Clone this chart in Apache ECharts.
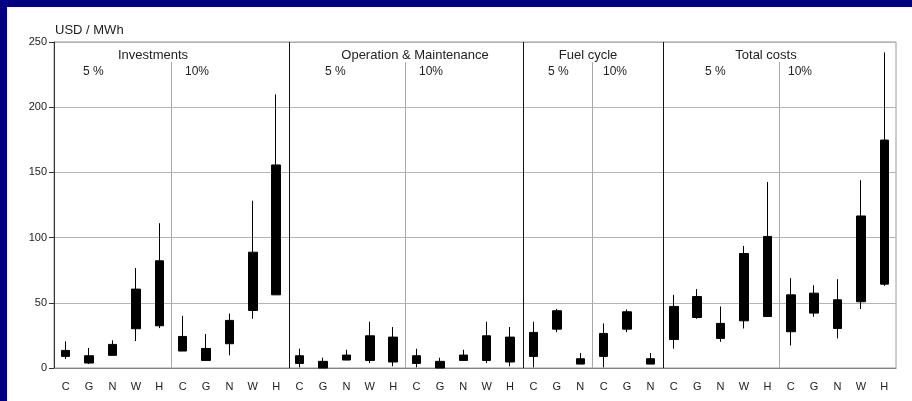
<!DOCTYPE html>
<html>
<head>
<meta charset="utf-8">
<script src="https://cdn.jsdelivr.net/npm/echarts@6/dist/echarts.min.js"></script>
<style>
  html, body { margin: 0; padding: 0; background: #ffffff; }
  #frame { position: absolute; left: 0; top: 0; width: 912px; height: 401px; background: #000080; }
  #chart { position: absolute; left: 7px; top: 7px; width: 905px; height: 394px; background: #ffffff; }
</style>
</head>
<body>
<div id="frame"><div id="chart"></div></div>
<script>
// Cost ranges per technology (C = coal, G = gas, N = nuclear, W = wind, H = hydro)
const categories = [
  'C','G','N','W','H', 'C','G','N','W','H',   // Investments 5 % / 10%
  'C','G','N','W','H', 'C','G','N','W','H',   // Operation & Maintenance 5 % / 10%
  'C','G','N', 'C','G','N',                   // Fuel cycle 5 % / 10%
  'C','G','N','W','H', 'C','G','N','W','H'    // Total costs 5 % / 10%
];
const boxLow = [
  8.9, 3.8, 9.7, 30.1, 32.4,   13.0, 5.8, 18.6, 44.1, 56.1,
  3.5, 0.0, 6.1, 5.8, 4.6,     3.5, 0.0, 5.8, 5.8, 4.6,
  8.9, 29.8, 3.0,              8.9, 29.8, 3.0,
  21.9, 38.7, 22.7, 36.2, 39.5, 27.8, 42.1, 30.3, 50.8, 64.3
];
const boxHigh = [
  13.5, 9.4, 18.1, 60.5, 82.2,  24.2, 15.0, 36.5, 88.8, 155.7,
  9.4, 5.1, 9.9, 24.7, 23.7,    9.4, 5.1, 9.9, 24.7, 23.7,
  27.3, 43.9, 7.1,              26.5, 43.1, 7.1,
  47.2, 54.8, 34.2, 87.8, 100.9, 56.1, 57.4, 52.3, 116.6, 174.8
];
const whiskerLow = [
  6.9, 3.0, 9.7, 20.7, 30.6,   13.0, 5.8, 9.7, 37.7, 56.1,
  0.5, 0.0, 6.0, 3.8, 1.3,     0.5, 0.0, 6.0, 3.8, 1.3,
  0.5, 27.5, 3.0,              0.5, 27.5, 3.0,
  14.8, 37.7, 20.1, 30.3, 39.5, 17.3, 39.3, 22.7, 45.2, 63.0
];
const whiskerHigh = [
  20.4, 15.3, 21.2, 76.6, 111.0, 40.0, 26.0, 41.8, 128.3, 209.8,
  14.8, 7.9, 14.0, 35.5, 31.4,   14.8, 7.9, 14.0, 35.5, 31.4,
  35.5, 45.4, 11.5,              34.2, 44.9, 11.5,
  56.1, 60.5, 47.2, 93.6, 142.6, 68.9, 63.5, 68.1, 144.0, 242.0
];
const yTicks = { min: 0, max: 250, step: 50 };

// Group titles and rate sub-labels
const sectionTitles = ['Investments', 'Operation & Maintenance', 'Fuel cycle', 'Total costs'];
const rateLabels = ['5 %', '10%'];
// Category index where each group starts / where 10% begins inside a group
const sectionStarts = [10, 20, 26];
const rateSplits = [5, 15, 23, 31];

const candleData = categories.map((c, i) => [boxLow[i], boxHigh[i], whiskerLow[i], whiskerHigh[i]]);

const FONT = '"Liberation Sans", Arial, sans-serif';
const chart = echarts.init(document.getElementById('chart'), null, { renderer: 'canvas' });

chart.setOption({
  animation: false,
  backgroundColor: '#ffffff',
  grid: { left: 47, right: 16, top: 35, bottom: 33, show: true, borderColor: '#9a9a9a', borderWidth: 1 },
  xAxis: {
    type: 'category',
    data: categories,
    boundaryGap: true,
    axisLine: { lineStyle: { color: '#808080', width: 1 } },
    axisTick: { show: false },
    axisLabel: { color: '#222', fontFamily: FONT, fontSize: 11, margin: 13 },
    splitLine: { show: false }
  },
  yAxis: {
    type: 'value',
    min: yTicks.min, max: yTicks.max, interval: yTicks.step,
    axisLine: { show: true, lineStyle: { color: '#333', width: 1 } },
    axisTick: { show: true, length: 5, lineStyle: { color: '#333' } },
    axisLabel: { color: '#222', fontFamily: FONT, fontSize: 11, margin: 7 },
    splitLine: { show: true, lineStyle: { color: '#b4b4b4', width: 1 } }
  },
  series: [{
    type: 'candlestick',
    data: candleData,
    barWidth: 9,
    itemStyle: {
      color: '#000', color0: '#000',
      borderColor: '#000', borderColor0: '#000', borderWidth: 1
    }
  }]
});

// Separator lines placed on category boundaries
function boundaryX(i) {
  const a = chart.convertToPixel({ xAxisIndex: 0 }, i - 1);
  const b = chart.convertToPixel({ xAxisIndex: 0 }, i);
  return Math.round((a + b) / 2) + 0.5;
}
const yTop = chart.convertToPixel({ yAxisIndex: 0 }, yTicks.max);
const yBottom = chart.convertToPixel({ yAxisIndex: 0 }, yTicks.min);

const graphics = [];
sectionStarts.forEach(i => {
  const x = boundaryX(i) + 1;
  graphics.push({ type: 'line', shape: { x1: x, y1: yTop, x2: x, y2: yBottom },
    style: { stroke: '#111', lineWidth: 1 }, z: 10 });
});
rateSplits.forEach(i => {
  const x = boundaryX(i);
  graphics.push({ type: 'line', shape: { x1: x, y1: yTop + 20, x2: x, y2: yBottom },
    style: { stroke: '#a8a8a8', lineWidth: 1 }, z: 1 });
});

// Text positions (relative to the chart box)
const titleCenters = [146, 408, 581, 759];
const rateLeft = [[76, 178], [318, 412], [541, 596], [698, 781]];
sectionTitles.forEach((t, k) => {
  graphics.push({ type: 'text', x: titleCenters[k], y: 48,
    style: { text: t, fill: '#222', font: '13px ' + FONT, textAlign: 'center', textVerticalAlign: 'middle' }, z: 20 });
  rateLabels.forEach((r, j) => {
    graphics.push({ type: 'text', x: rateLeft[k][j], y: 65,
      style: { text: r, fill: '#222', font: '12px ' + FONT, textAlign: 'left', textVerticalAlign: 'middle' }, z: 20 });
  });
});
graphics.push({ type: 'text', x: 48, y: 23,
  style: { text: 'USD / MWh', fill: '#222', font: '13px ' + FONT, textAlign: 'left', textVerticalAlign: 'middle' }, z: 20 });

chart.setOption({ graphic: graphics });
</script>
</body>
</html>
